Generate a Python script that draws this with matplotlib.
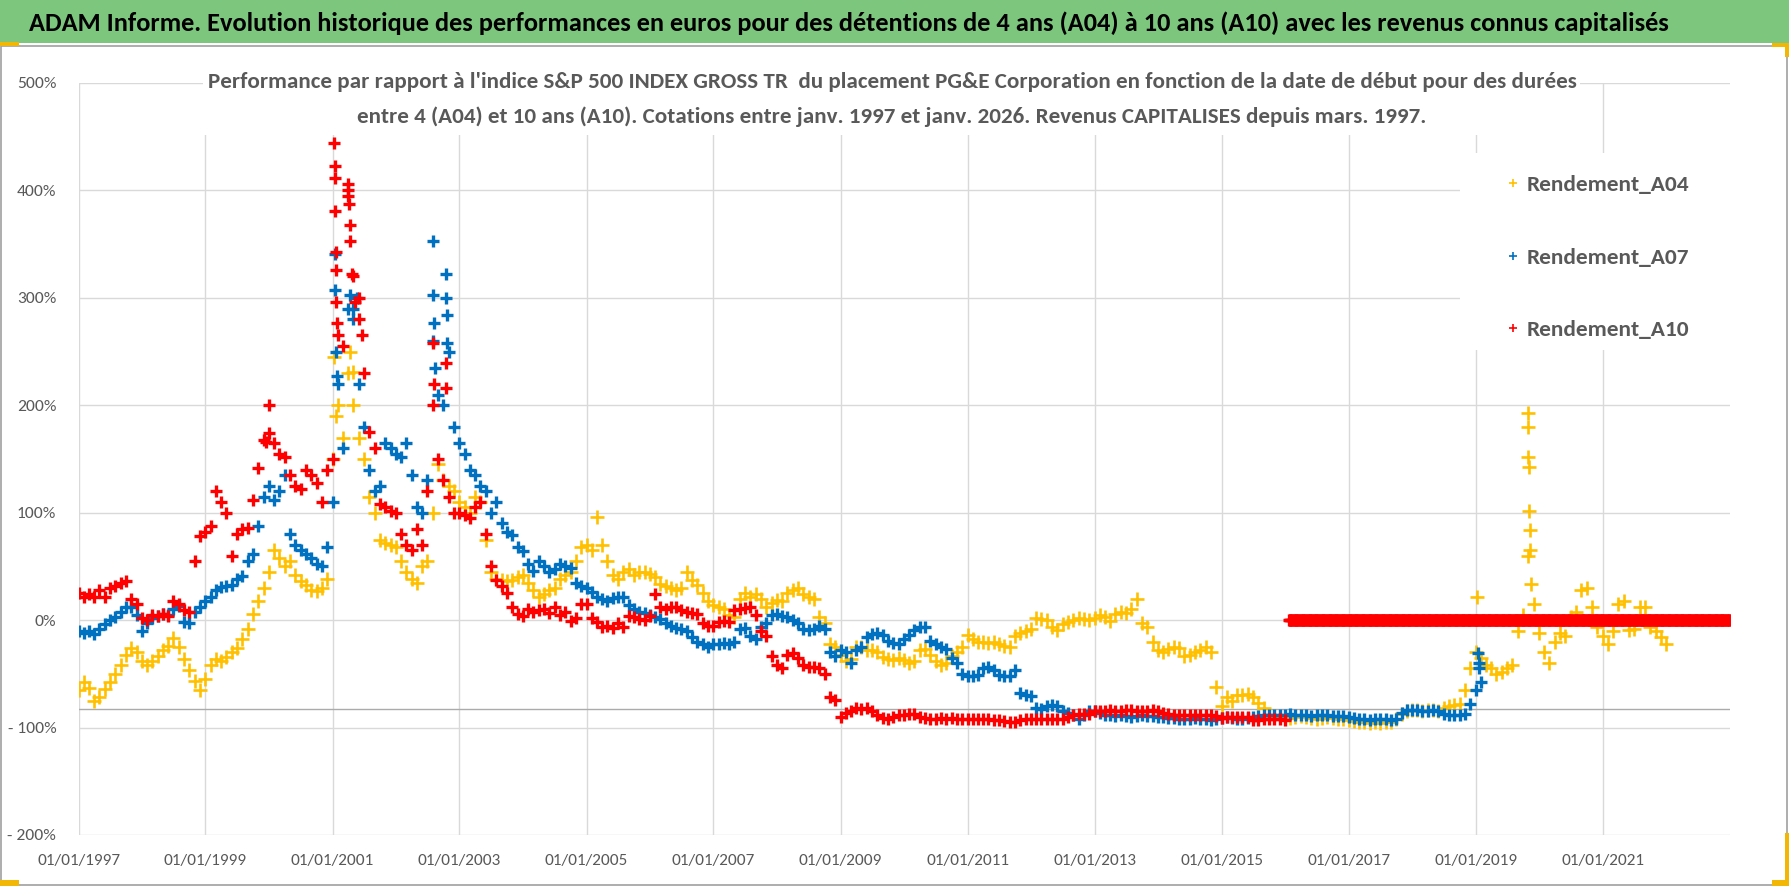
import datetime as dt
import numpy as np
import pandas as pd
import matplotlib
matplotlib.use("Agg")
import matplotlib.pyplot as plt
import matplotlib.dates as mdates
from matplotlib.patches import Rectangle
from matplotlib.ticker import FuncFormatter

# ---------------- data (values in %, monthly from the start date) ----------------
a04_start = "1997-01-01"
a04_values = [
    -65, -58, -63, -75, -72, -64, -58, -50, -42, -32, -26, -30,
    -38, -42, -38, -33, -28, -24, -17, -25, -36, -46, -57, -65,
    -55, -42, -36, -38, -34, -30, -26, -18, -8, 6, 18, 30,
    45, 65, 58, 50, 55, 42, 36, 33, 28, 27, 30, 38,
    150, 200, 170, 230, 200, 170, 150, 115, 100, 75, 72, 70,
    68, 55, 45, 38, 35, 50, 55, 100, 145, 130, 125, 120,
    110, 105, 100, 115, 110, 75, 45, 38, 37, 36, 37, 40,
    42, 35, 28, 22, 24, 28, 30, 38, 42, 45, 55, 68,
    70, 65, 96, 70, 55, 42, 38, 45, 48, 42, 45, 45,
    43, 40, 34, 32, 30, 28, 30, 45, 37, 33, 25, 18,
    14, 12, 10, 5, 3, 20, 25, 22, 24, 20, 12, 16,
    19, 18, 25, 28, 30, 24, 22, 20, 3, -3, -22, -25,
    -32, -38, -36, -25, -25, -28, -28, -30, -34, -36, -37, -35,
    -37, -40, -38, -28, -27, -32, -38, -42, -40, -33, -30, -25,
    -14, -18, -20, -20, -21, -20, -22, -24, -25, -15, -12, -10,
    -8, 2, 1, 0, -6, -9, -4, -2, 0, 2, 1, 0,
    2, 5, 3, -1, 6, 8, 7, 10, 20, -3, -6, -20,
    -28, -30, -27, -25, -26, -33, -32, -30, -28, -25, -30, -62,
    -80, -72, -75, -70, -70, -69, -72, -77, -82, -88, -89, -90,
    -90, -91, -90, -89, -90, -91, -92, -91, -90, -91, -92, -92,
    -93, -94, -95, -95, -96, -95, -96, -95, -95, -92, -87, -85,
    -84, -84, -85, -84, -84, -85, -82, -80, -79, -78, -65, -45,
    -30, -35, -42, -45, -50, -48, -45, -42, -10, 5, 60, 15,
    -12, -30, -40, -20, -12, -15, 3, 8, 28, 30, 12, -6,
    -15, -22, -10, 15, 18, -9, -8, 12, 12, -6, -10, -16,
    -22,
]
a04_extra_years = [2001.03, 2001.05, 2001.28, 2001.32, 2019.02,
                   2019.82, 2019.825, 2019.83, 2019.835, 2019.84, 2019.85, 2019.86, 2019.87]
a04_extra_values = [245, 190, 250, 231, 22,
                    193, 180, 152, 143, 102, 84, 65, 34]

a07_start = "1997-01-01"
a07_values = [
    -10, -12, -10, -13, -8, -4, 0, 3, 8, 12, 12, 5,
    -10, -3, 2, 4, 6, 5, 10, 13, -2, -3, 8, 12,
    18, 22, 28, 31, 32, 33, 38, 41, 55, 62, 88, 115,
    125, 112, 120, 135, 80, 70, 65, 62, 58, 52, 50, 68,
    110, 220, 160, 290, 290, 220, 180, 140, 120, 125, 165, 160,
    155, 152, 165, 135, 105, 100, 130, 260, 210, 200, 250, 180,
    165, 155, 140, 135, 125, 120, 100, 110, 90, 82, 79, 68,
    64, 52, 46, 55, 50, 45, 48, 52, 50, 49, 35, 32,
    30, 26, 22, 20, 18, 21, 22, 22, 14, 10, 8, 7,
    5, 3, 1, -3, -5, -7, -8, -10, -16, -20, -22, -25,
    -22, -22, -21, -22, -20, -8, -7, -15, -18, -6, -3, 5,
    6, 4, 3, 0, -3, -8, -9, -8, -5, -8, -30, -33,
    -28, -30, -40, -28, -25, -16, -13, -12, -14, -19, -21, -22,
    -18, -14, -9, -6, -6, -19, -22, -25, -27, -35, -40, -50,
    -52, -52, -51, -45, -44, -46, -51, -52, -52, -46, -68, -70,
    -71, -82, -83, -80, -79, -80, -85, -86, -88, -92, -88, -85,
    -85, -86, -88, -88, -89, -88, -89, -90, -89, -88, -89, -89,
    -90, -90, -91, -91, -92, -92, -92, -91, -92, -92, -93, -92,
    -91, -90, -91, -92, -92, -91, -90, -89, -88, -88, -88, -88,
    -88, -87, -88, -88, -88, -89, -88, -88, -88, -89, -89, -89,
    -90, -91, -92, -92, -93, -92, -92, -92, -93, -92, -86, -84,
    -84, -84, -85, -85, -84, -85, -87, -88, -88, -88, -87, -78,
    -65, -58,
]
a07_extra_years = [2001.035, 2001.04, 2001.05, 2001.07, 2001.28, 2001.32, 2001.38,
                   2002.58, 2002.59, 2002.60, 2002.61, 2002.79, 2002.795, 2002.80, 2002.81,
                   2019.04, 2019.05, 2019.06]
a07_extra_values = [341, 307, 250, 227, 303, 280, 300,
                    353, 303, 277, 235, 322, 300, 284, 258,
                    -31, -40, -45]

a10_start = "1997-01-01"
a10_values = [
    25, 22, 24, 22, 28, 22, 30, 32, 35, 36, 20, 15,
    2, 0, 5, 4, 6, 4, 18, 15, 9, 8, 55, 78,
    82, 88, 120, 110, 100, 60, 80, 85, 86, 112, 142, 168,
    200, 165, 155, 152, 135, 125, 122, 140, 135, 128, 110, 140,
    150, 265, 255, 395, 320, 280, 230, 175, 160, 108, 105, 102,
    100, 80, 70, 65, 85, 70, 120, 200, 150, 130, 115, 100,
    100, 98, 95, 105, 110, 80, 50, 37, 32, 25, 12, 6,
    4, 10, 8, 9, 10, 7, 12, 5, 8, -1, 2, 15,
    15, 2, -2, -6, -5, -7, -3, -6, 4, 3, 1, 0,
    4, 24, 12, 10, 12, 12, 9, 8, 7, 6, -3, -5,
    -5, -2, -1, -2, 9, 10, 11, 12, 5, -10, -15, -33,
    -42, -45, -32, -31, -35, -42, -44, -44, -45, -50, -72, -74,
    -90, -86, -85, -82, -83, -82, -85, -88, -91, -92, -90, -88,
    -88, -87, -87, -90, -91, -92, -92, -91, -92, -91, -92, -92,
    -92, -92, -92, -92, -92, -93, -93, -94, -95, -95, -93, -92,
    -92, -92, -92, -92, -92, -92, -92, -90, -88, -87, -87, -87,
    -85, -85, -85, -84, -85, -85, -84, -84, -85, -85, -85, -84,
    -85, -86, -87, -88, -88, -88, -88, -88, -88, -88, -88, -89,
    -91, -90, -90, -90, -90, -90, -93, -93, -92, -92, -92, -92,
    -93,
]
a10_extra_years = [1999.96, 2000.0,
                   2001.03, 2001.035, 2001.04, 2001.045, 2001.05, 2001.055, 2001.06, 2001.065,
                   2001.24, 2001.25, 2001.26, 2001.27, 2001.28, 2001.30, 2001.36, 2001.42, 2001.46,
                   2002.59, 2002.60, 2002.78, 2002.79]
a10_extra_values = [166, 174,
                    444, 423, 412, 381, 343, 326, 296, 277,
                    406, 400, 387, 368, 353, 322, 296, 300, 265,
                    258, 220, 239, 216]
# start dates without a 10-year result yet: value 0 %
a10_zero_first = "2016-01-22"
a10_zero_last = "2022-12-31"

series_names = ["Rendement_A04", "Rendement_A07", "Rendement_A10"]
series_colors = ["#FFC000", "#0070C0", "#FF0000"]

x_tick_years = [1997, 1999, 2001, 2003, 2005, 2007, 2009, 2011, 2013, 2015, 2017, 2019, 2021]
y_ticks = [-200, -100, 0, 100, 200, 300, 400, 500]

title_text = ("ADAM Informe. Evolution historique des performances en euros pour des détentions "
              "de 4 ans (A04) à 10 ans (A10) avec les revenus connus capitalisés")
subtitle_1 = ("Performance par rapport à l'indice S&P 500 INDEX GROSS TR  du placement PG&E Corporation "
              "en fonction de la date de début pour des durées")
subtitle_2 = ("entre 4 (A04) et 10 ans (A10). Cotations entre janv. 1997 et janv. 2026. "
              "Revenus CAPITALISES depuis mars. 1997.")


def year_to_date(y):
    year = int(y)
    return dt.datetime(year, 1, 1) + dt.timedelta(days=(y - year) * 365.25)


def build(start, values, extra_years, extra_values):
    d = list(pd.date_range(start=start, periods=len(values), freq="MS").to_pydatetime())
    d += [year_to_date(y) for y in extra_years]
    return d, list(values) + list(extra_values)


# ---------------- figure ----------------
FONT = ["Carlito", "Liberation Sans Narrow", "Lato", "DejaVu Sans"]
plt.rcParams["font.family"] = FONT

W, H = 1790, 886
fig = plt.figure(figsize=(W / 100, H / 100), dpi=100)
fig.patch.set_facecolor("white")


def fx(px):
    return px / W


def fy(py):
    return 1 - py / H


renderer = fig.canvas.get_renderer()


def fit_size(text, target_px, weight="normal", base=20):
    t = fig.text(0, 0, text, fontsize=base, fontweight=weight)
    w = t.get_window_extent(renderer).width
    t.remove()
    return base * target_px / w


# header bar and frame
fig.patches.append(Rectangle((0, fy(43)), 1, fy(0) - fy(43), transform=fig.transFigure,
                             facecolor="#7DC67D", edgecolor="none", zorder=0))
fig.patches.append(Rectangle((fx(1), fy(885)), fx(1787) - fx(1), fy(46) - fy(885),
                             transform=fig.transFigure, facecolor="none",
                             edgecolor="#A0A0A0", lw=1.2, zorder=0))
for (x0, y0, x1, y1) in [(0, 42, 19, 46), (1772, 43, 1790, 47), (1785, 43, 1790, 57),
                         (1785, 833, 1790, 886), (1772, 880, 1790, 886), (0, 880, 19, 886)]:
    fig.patches.append(Rectangle((fx(x0), fy(y1)), fx(x1) - fx(x0), fy(y0) - fy(y1),
                                 transform=fig.transFigure, facecolor="#F2B705",
                                 edgecolor="none", zorder=3))

ax = fig.add_axes([fx(78.5), fy(835), fx(1729.6) - fx(78.5), fy(83) - fy(835)])
ax.set_facecolor("white")
ax.set_axisbelow(True)

d04, v04 = build(a04_start, a04_values, a04_extra_years, a04_extra_values)
d07, v07 = build(a07_start, a07_values, a07_extra_years, a07_extra_values)
d10, v10 = build(a10_start, a10_values, a10_extra_years, a10_extra_values)
dz = list(pd.date_range(a10_zero_first, a10_zero_last, freq="5D").to_pydatetime())
d10 += dz
v10 += [0] * len(dz)

h04, = ax.plot(d04, v04, linestyle="none", marker="+", ms=10, mew=1.9,
               color=series_colors[0], label=series_names[0], zorder=3)
h07, = ax.plot(d07, v07, linestyle="none", marker="+", ms=9, mew=2.4,
               color=series_colors[1], label=series_names[1], zorder=4)
h10, = ax.plot(d10, v10, linestyle="none", marker="+", ms=9, mew=2.4,
               color=series_colors[2], label=series_names[2], zorder=5)

ax.set_xlim(dt.datetime(1997, 1, 1), dt.datetime(2023, 1, 1))
ax.set_ylim(-200, 500)
ax.set_xticks([dt.datetime(y, 1, 1) for y in x_tick_years])
ax.xaxis.set_major_formatter(mdates.DateFormatter("%d/%m/%Y"))
ax.set_yticks(y_ticks)
ax.yaxis.set_major_formatter(FuncFormatter(
    lambda v, p: f"{v:.0f}%" if v >= 0 else f"- {abs(v):.0f}%"))
ax.grid(True, color="#D9D9D9", lw=1.0)
for s in ax.spines.values():
    s.set_visible(False)
ax.axhline(-83, color="#ABABAB", lw=1.0, zorder=1)

xfs = fit_size("01/01/1997", 83)
yfs = fit_size("500%", 39)
ax.tick_params(axis="x", length=0, pad=14, labelsize=xfs, labelcolor="#595959")
ax.tick_params(axis="y", length=0, pad=16, labelsize=yfs, labelcolor="#595959")

# white boxes of title and legend covering the grid
ax.add_patch(Rectangle((fx(203), fy(135)), fx(1580) - fx(203), fy(55) - fy(135),
                       transform=fig.transFigure, facecolor="white", edgecolor="none",
                       zorder=1, clip_on=False))
ax.add_patch(Rectangle((fx(1460), fy(350)), fx(1730) - fx(1460), fy(153) - fy(350),
                       transform=fig.transFigure, facecolor="white", edgecolor="none",
                       zorder=1, clip_on=False))

lfs = fit_size("Rendement_A04", 160)
leg = ax.legend(handles=[h04, h07, h10], loc="upper left",
                bbox_to_anchor=(fx(1506), fy(175)), bbox_transform=fig.transFigure,
                frameon=False, borderpad=0, borderaxespad=0, fontsize=lfs,
                handlelength=0.6, handletextpad=0.3, labelspacing=2.22, markerscale=0.6)
for t in leg.get_texts():
    t.set_color("#595959")
    t.set_fontweight("bold")
for hnd in leg.legend_handles:
    hnd.set_markeredgewidth(1.2)

tfs = fit_size(title_text, 1641, weight="bold")
fig.text(fx(29), fy(23), title_text, fontsize=tfs, fontweight="bold", color="black",
         ha="left", va="center")
sfs = fit_size(subtitle_1, 1365, weight="bold")
fig.text(fx(892), fy(82), subtitle_1, fontsize=sfs, fontweight="bold", color="#595959",
         ha="center", va="center")
fig.text(fx(892), fy(117), subtitle_2, fontsize=sfs, fontweight="bold", color="#595959",
         ha="center", va="center")

fig.savefig("out.png", dpi=100, facecolor="white")
